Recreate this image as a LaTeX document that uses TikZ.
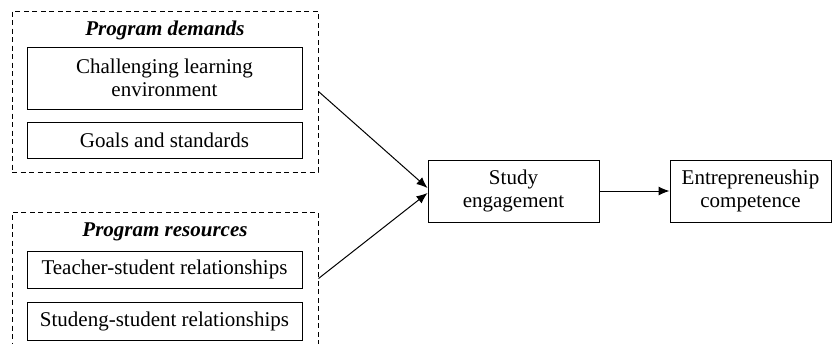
\documentclass[tikz,border=0pt]{standalone}
\usepackage{fontspec}
\setmainfont{Liberation Serif}
\usetikzlibrary{arrows.meta}
\begin{document}
\begin{tikzpicture}[x=1pt,y=-1pt,
  box/.style={draw, line width=1pt, align=center, inner sep=0pt, font=\fontsize{21}{23}\selectfont},
  group/.style={draw, dashed, dash pattern=on 5pt off 3.5pt, line width=1pt, inner sep=0pt},
  title/.style={font=\fontsize{21}{23}\selectfont\bfseries\itshape, inner sep=0pt},
  arr/.style={line width=1pt, -{Latex[length=11pt,width=9pt]}}]
\useasboundingbox (0,0) rectangle (832,343);
\node[group, minimum width=306pt, minimum height=161pt] (demands) at (165,91.5) {};
\node[title] (tdem) at (165,30) {Program demands};
\node[box, minimum width=275pt, minimum height=62pt] (cle) at (164.5,78) {Challenging learning\\environment};
\node[box, minimum width=275pt, minimum height=36pt] (gs) at (164.5,140) {Goals and standards};
\node[group, minimum width=306pt, minimum height=133pt] (resources) at (165,278.5) {};
\node[title] (tres) at (165,232) {Program resources};
\node[box, minimum width=275pt, minimum height=37pt] (tsr) at (164.5,269.5) {Teacher-student relationships};
\node[box, minimum width=275pt, minimum height=38pt] (ssr) at (164.5,321) {Studeng-student relationships};
\node[box, minimum width=171pt, minimum height=62pt] (study) at (513.5,191) {Study\\engagement};
\node[box, minimum width=161pt, minimum height=62pt] (ec) at (750.5,191) {Entrepreneuship\\competence};
\draw[arr] (demands.east) -- ([yshift=3pt]study.west);
\draw[arr] (resources.east) -- ([yshift=-2pt]study.west);
\draw[arr] (study.east) -- (ec.west);
\end{tikzpicture}
\end{document}
